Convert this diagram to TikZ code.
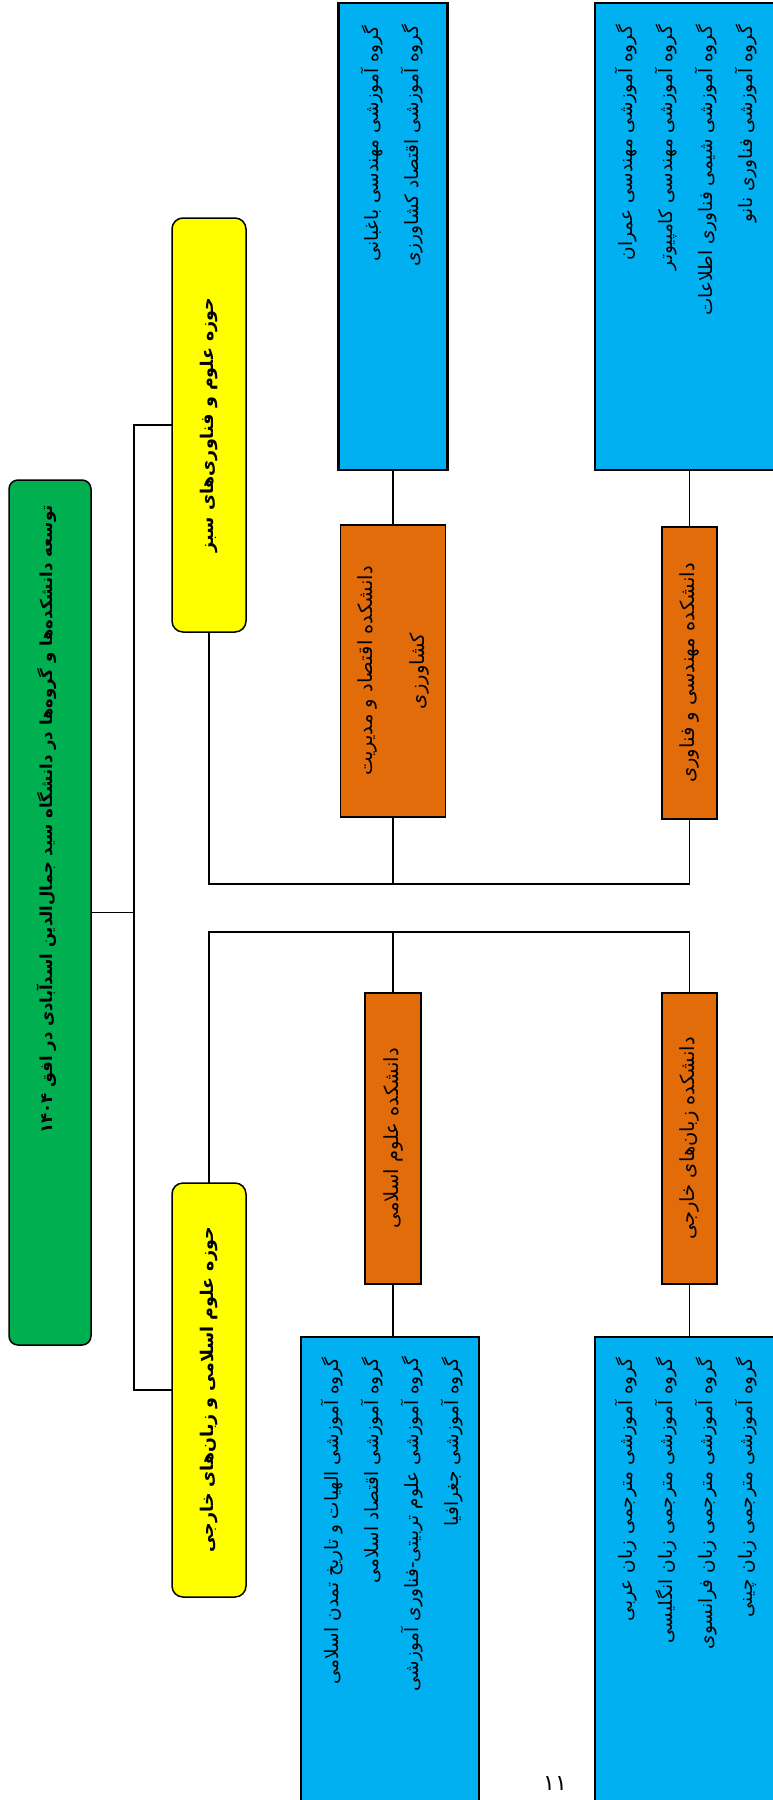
\documentclass[tikz,border=0pt]{standalone}
\usepackage{fontspec}
\usetikzlibrary{calc}
\newfontfamily\fa[Script=Arabic]{DejaVu Sans}
\TeXXeTstate=1
\definecolor{tgreen}{HTML}{00B050}
\definecolor{tyellow}{HTML}{FFFF00}
\definecolor{tblue}{HTML}{00B0F0}
\definecolor{torange}{HTML}{E36C0A}
\tikzset{
  boxbase/.style={draw=black, inner sep=0pt, outer sep=0pt},
  greenbox/.style={boxbase, fill=tgreen, rounded corners=9pt, line width=1.5pt},
  yellowbox/.style={boxbase, fill=tyellow, rounded corners=11pt, line width=1.5pt},
  bluebox/.style={boxbase, fill=tblue, line width=2.5pt},
  orangebox/.style={boxbase, fill=torange, line width=1.8pt},
  conn/.style={line width=1.7pt},
  titletext/.style={rotate=90, inner sep=0pt, anchor=east, font=\fa\bfseries\fontsize{16.5}{20}\selectfont},
  headtext/.style={rotate=90, inner sep=0pt, font=\fa\bfseries\fontsize{17.5}{20}\selectfont},
  listtext/.style={rotate=90, inner sep=0pt, anchor=north east, align=right, font=\fa\fontsize{18.5}{40}\selectfont},
  facultytext/.style={rotate=90, inner sep=0pt, align=center, font=\fa\fontsize{19.5}{52}\selectfont},
}
\begin{document}
\begin{tikzpicture}[x=1pt,y=-1pt]
\useasboundingbox (0,0) rectangle (773,1800);
% boxes
\node[greenbox, minimum width=82pt, minimum height=865pt] (green) at (50,912.5) {};
\node[yellowbox, minimum width=74pt, minimum height=414pt] (yu) at (209,425) {};
\node[yellowbox, minimum width=74pt, minimum height=414pt] (yl) at (209,1390) {};
\node[bluebox, minimum width=109pt, minimum height=467pt] (bUL) at (393,236.5) {};
\node[bluebox, minimum width=189pt, minimum height=467pt] (bUR) at (689.5,236.5) {};
\node[orangebox, minimum width=105pt, minimum height=292pt] (oUL) at (393,671) {};
\node[orangebox, minimum width=55pt, minimum height=292pt] (oUR) at (689.5,673) {};
\node[orangebox, minimum width=56pt, minimum height=291pt] (oLL) at (393,1138.5) {};
\node[orangebox, minimum width=55pt, minimum height=291pt] (oLR) at (689.5,1138.5) {};
\node[bluebox, minimum width=178pt, minimum height=473pt] (bLL) at (390,1573.5) {};
\node[bluebox, minimum width=189pt, minimum height=473pt] (bLR) at (689.5,1573.5) {};
% helper coordinates
\coordinate (tx) at (134,0);
\coordinate (bus1) at (0,884);
\coordinate (bus2) at (0,932);
% connectors
\draw[conn] (green.east) -- (green.east -| tx);
\draw[conn] (yu.west) -- (yu.west -| tx) -- (yl.west -| tx) -- (yl.west);
\draw[conn] (yu.south) -- (yu.south |- bus1) -- (oUR.south |- bus1) -- (oUR.south);
\draw[conn] (oUL.south) -- (oUL.south |- bus1);
\draw[conn] (yl.north) -- (yl.north |- bus2) -- (oLR.north |- bus2) -- (oLR.north);
\draw[conn] (oLL.north) -- (oLL.north |- bus2);
\draw[conn] (bUL.south) -- (oUL.north);
\draw[conn] (bUR.south) -- (oUR.north);
\draw[conn] (oLL.south) -- (oLL.south |- bLL.north);
\draw[conn] (oLR.south) -- (bLR.north);
% texts
\node[titletext] (ttitle) at ($(green.north)+(-3,25)$) {\beginR توسعه دانشکده‌ها و گروه‌ها در دانشگاه سید جمال‌الدین اسدآبادی در افق \beginL ۱۴۰۴\endL\endR};
\node[headtext] (tyu) at (yu.center) {\beginR حوزه علوم و فناوری‌های سبز\endR};
\node[headtext] (tyl) at (yl.center) {\beginR حوزه علوم اسلامی و زبان‌های خارجی\endR};
\node[facultytext] (toUL) at (oUL.center) {\beginR دانشکده اقتصاد و مدیریت\endR\\\beginR کشاورزی\endR};
\node[facultytext] (toUR) at (oUR.center) {\beginR دانشکده مهندسی و فناوری\endR};
\node[facultytext] (toLL) at (oLL.center) {\beginR دانشکده علوم اسلامی\endR};
\node[facultytext] (toLR) at (oLR.center) {\beginR دانشکده زبان‌های خارجی\endR};
\node[listtext] (tbUL) at ($(bUL.north west)+(22,22)$) {\beginR گروه آموزشی مهندسی باغبانی\endR\\\beginR گروه آموزشی اقتصاد کشاورزی\endR};
\node[listtext] (tbUR) at ($(bUR.north west)+(20,22)$) {\beginR گروه آموزشی مهندسی عمران\endR\\\beginR گروه آموزشی مهندسی کامپیوتر\endR\\\beginR گروه آموزشی شیمی فناوری اطلاعات\endR\\\beginR گروه آموزشی فناوری نانو\endR};
\node[listtext] (tbLL) at ($(bLL.north west)+(20,20)$) {\beginR گروه آموزشی الهیات و تاریخ تمدن اسلامی\endR\\\beginR گروه آموزشی اقتصاد اسلامی\endR\\\beginR گروه آموزشی علوم تربیتی-فناوری آموزشی\endR\\\beginR گروه آموزشی جغرافیا\endR};
\node[listtext] (tbLR) at ($(bLR.north west)+(20,20)$) {\beginR گروه آموزشی مترجمی زبان عربی\endR\\\beginR گروه آموزشی مترجمی زبان انگلیسی\endR\\\beginR گروه آموزشی مترجمی زبان فرانسوی\endR\\\beginR گروه آموزشی مترجمی زبان چینی\endR};
\node[font=\fa\fontsize{22}{24}\selectfont, inner sep=0pt] (pg) at (555,1783) {۱۱};
\end{tikzpicture}
\end{document}
